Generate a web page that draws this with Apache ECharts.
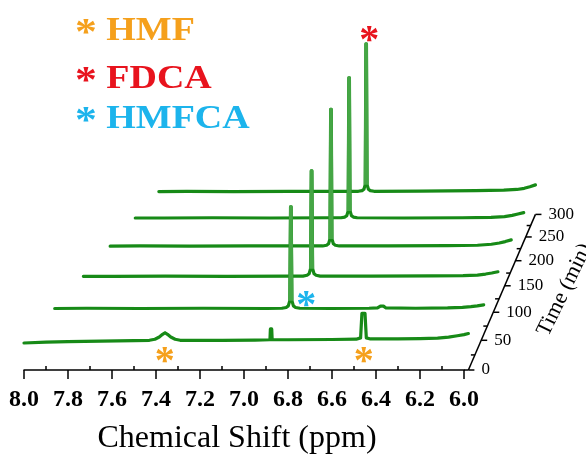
<!DOCTYPE html>
<html>
<head>
<meta charset="utf-8">
<title>1H NMR time course</title>
<script src="https://cdn.jsdelivr.net/npm/echarts@6/dist/echarts.min.js"></script>
<style>
  html, body { margin: 0; padding: 0; background: #ffffff; }
  #chart { width: 586px; height: 455px; }
</style>
</head>
<body>
<div id="chart"></div>
<script>
// Reaction times of the stacked spectra (min)
const times = [0, 60, 120, 180, 240, 300];

// Spectra as [chemical shift (ppm), intensity (a.u.)]
const spectrum0 = [
  [8.00, 0.0], [7.90, 0.3], [7.80, 0.5], [7.65, 0.7], [7.50, 0.9], [7.43, 1.0],
  [7.405, 1.4], [7.385, 2.2], [7.37, 3.2], [7.359, 3.8], [7.348, 3.2], [7.333, 2.2],
  [7.313, 1.4], [7.29, 1.0], [7.10, 1.0], [6.95, 1.1], [6.882, 1.2], [6.880, 5.2],
  [6.874, 5.2], [6.872, 1.2], [6.80, 1.2], [6.60, 1.3], [6.49, 1.4], [6.470, 1.9],
  [6.464, 11.0], [6.450, 11.0], [6.444, 1.9], [6.425, 1.5], [6.30, 1.5], [6.20, 1.6],
  [6.12, 1.8], [6.07, 2.2], [6.03, 2.7], [6.00, 3.1], [5.98, 3.5]
];
const spectrum60 = [
  [8.00, 0.0], [7.85, 0.1], [7.60, 0.0], [7.30, 0.1], [7.00, 0.0], [6.93, 0.1],
  [6.91, 0.4], [6.90, 1.0], [6.893, 3.0], [6.8895, 39.0], [6.8865, 39.0], [6.883, 3.0],
  [6.876, 1.0], [6.866, 0.4], [6.846, 0.1], [6.70, 0.0], [6.52, 0.1], [6.48, 0.2],
  [6.466, 0.9], [6.452, 0.9], [6.44, 0.2], [6.30, 0.1], [6.15, 0.2], [6.08, 0.4],
  [6.04, 0.7], [6.01, 1.0], [5.98, 1.4]
];
const spectrum120 = [
  [8.00, 0.0], [7.85, 0.0], [7.60, 0.1], [7.30, 0.0], [7.00, 0.1], [6.93, 0.1],
  [6.91, 0.4], [6.90, 1.0], [6.893, 3.0], [6.8895, 41.9], [6.8865, 41.9], [6.883, 3.0],
  [6.876, 1.0], [6.866, 0.4], [6.846, 0.1], [6.60, 0.1], [6.30, 0.2], [6.15, 0.3],
  [6.08, 0.5], [6.04, 0.9], [6.01, 1.3], [5.98, 1.8]
];
const spectrum180 = [
  [8.00, 0.0], [7.85, 0.1], [7.60, 0.0], [7.30, 0.1], [7.00, 0.1], [6.93, 0.1],
  [6.91, 0.4], [6.90, 1.0], [6.893, 3.0], [6.8895, 56.2], [6.8865, 56.2], [6.883, 3.0],
  [6.876, 1.0], [6.866, 0.4], [6.846, 0.1], [6.60, 0.1], [6.30, 0.2], [6.15, 0.4],
  [6.08, 0.8], [6.04, 1.3], [6.01, 1.9], [5.98, 2.6]
];
const spectrum240 = [
  [8.00, 0.0], [7.85, 0.0], [7.60, 0.1], [7.30, 0.0], [7.00, 0.1], [6.93, 0.1],
  [6.91, 0.4], [6.90, 1.0], [6.893, 3.0], [6.8895, 59.4], [6.8865, 59.4], [6.883, 3.0],
  [6.876, 1.0], [6.866, 0.4], [6.846, 0.1], [6.60, 0.0], [6.30, 0.1], [6.15, 0.3],
  [6.08, 0.6], [6.04, 1.1], [6.01, 1.7], [5.98, 2.3]
];
const spectrum300 = [
  [8.00, 0.0], [7.85, 0.1], [7.60, 0.0], [7.30, 0.1], [7.00, 0.1], [6.93, 0.1],
  [6.91, 0.4], [6.90, 1.0], [6.893, 3.0], [6.8895, 64.5], [6.8865, 64.5], [6.883, 3.0],
  [6.876, 1.0], [6.866, 0.4], [6.846, 0.1], [6.60, 0.2], [6.30, 0.4], [6.15, 0.6],
  [6.08, 0.9], [6.04, 1.4], [6.01, 2.1], [5.98, 2.9]
];
const spectra = [spectrum0, spectrum60, spectrum120, spectrum180, spectrum240, spectrum300];

// Time axis ticks (min)
const timeTicks = [0, 50, 100, 150, 200, 250, 300];
const timeMinorTicks = [25, 75, 125, 175, 225, 275];

// Peak assignments: [ppm, time (min), intensity]
const hmfMarks = [[7.36, 0, -4.5], [6.456, 0, -4.5]];
const fdcaMarks = [[6.871, 300, 69.1]];
const hmfcaMarks = [[6.816, 60, 3.7]];

// Compound labels
const compounds = ['HMF', 'FDCA', 'HMFCA'];

const SERIF = '"Liberation Serif", "Times New Roman", Times, serif';
const GREEN = '#178a17';
const LIGHT_GREEN = '#45a645';
const COLORS = { HMF: '#f5a01c', FDCA: '#e8131d', HMFCA: '#1cb4ec' };

// Oblique (perspective) depth projection of the time axis
const T_MAX = 300;
const DEPTH_K = 0.18;
const VANISH = [908, -650];
const FLOOR = -10;          // bottom of the intensity scale
const PPM_END = 5.98;       // far edge of the spectral window
const TALL = 20;            // intensity above which a line is drawn as a thin spike

function project(pt, t) {
  const s = 1 / (1 + DEPTH_K * t / T_MAX);
  return [VANISH[0] + (pt[0] - VANISH[0]) * s, VANISH[1] + (pt[1] - VANISH[1]) * s];
}

const chart = echarts.init(document.getElementById('chart'), null, { renderer: 'canvas' });

const markerSeries = (marks, color) => ({
  type: 'custom',
  coordinateSystem: 'cartesian2d',
  clip: false,
  silent: true,
  z: 5,
  data: marks.map(m => [m[0], m[2]]),
  renderItem(params, api) {
    const m = marks[params.dataIndex];
    const p = project(api.coord([m[0], m[2]]), m[1]);
    return {
      type: 'text',
      x: p[0],
      y: p[1] + 8,
      style: {
        text: '*', fill: color, align: 'center', verticalAlign: 'middle',
        font: 'bold 40px ' + SERIF
      }
    };
  }
});

const option = {
  animation: false,
  backgroundColor: '#ffffff',
  grid: { left: 24, right: 122, top: 73, bottom: 85, outerBoundsMode: 'none', containLabel: false },
  xAxis: {
    type: 'value',
    min: 6,
    max: 8,
    interval: 0.2,
    inverse: true,
    axisLine: { show: true, onZero: false, lineStyle: { color: '#000', width: 1.5 } },
    axisTick: { show: true, inside: false, length: 9, lineStyle: { color: '#000', width: 1.5 } },
    minorTick: { show: true, splitNumber: 2, length: -4, lineStyle: { color: '#000', width: 1.5 } },
    splitLine: { show: false },
    minorSplitLine: { show: false },
    axisLabel: {
      margin: 18, color: '#000', fontFamily: SERIF, fontWeight: 'bold', fontSize: 24,
      formatter: v => v.toFixed(1)
    },
    name: 'Chemical Shift (ppm)',
    nameLocation: 'middle',
    nameGap: 53,
    nameTextStyle: { color: '#000', fontFamily: SERIF, fontSize: 32, padding: [0, 14, 0, 0] }
  },
  yAxis: { type: 'value', min: FLOOR, max: 100, show: false },
  graphic: compounds.map((name, i) => ({
    type: 'text',
    x: 75,
    y: [31, 79.5, 119][i],
    scaleX: 1.15,
    style: {
      text: '{s|*} ' + name, fill: COLORS[name], align: 'left', verticalAlign: 'middle',
      font: 'bold 33px ' + SERIF,
      rich: { s: { font: 'bold 38px ' + SERIF, fill: COLORS[name], padding: [6, 0, 0, 0] } }
    }
  })),
  series: [
    {
      // stacked spectra, drawn from the back row to the front row
      type: 'custom',
      coordinateSystem: 'cartesian2d',
      clip: false,
      silent: true,
      z: 3,
      data: spectra.map(() => [7, 0]),
      renderItem(params, api) {
        const i = spectra.length - 1 - params.dataIndex;
        const spec = spectra[i];
        const pts = spec.map(p => project(api.coord(p), times[i]));
        const children = [{
          type: 'polyline',
          shape: { points: pts },
          style: { stroke: GREEN, lineWidth: 3.2, fill: null, lineJoin: 'round', lineCap: 'round' }
        }];
        // tall, narrow resonances read as lighter spikes
        spec.forEach((p, k) => {
          if (p[1] > TALL && spec[k - 1][1] <= TALL) {
            let e = k;
            while (spec[e][1] > TALL) e++;
            children.push({
              type: 'polyline',
              shape: { points: pts.slice(k - 1, e + 1) },
              style: { stroke: LIGHT_GREEN, lineWidth: 3, fill: null, lineJoin: 'round' }
            });
          }
        });
        return { type: 'group', children };
      }
    },
    {
      // depth (time) axis along the right edge of the floor
      type: 'custom',
      coordinateSystem: 'cartesian2d',
      clip: false,
      silent: true,
      z: 4,
      data: [[PPM_END, FLOOR]],
      renderItem(params, api) {
        const base = api.coord([PPM_END, FLOOR]);
        const at = t => project(base, t);
        const line = { stroke: '#000', lineWidth: 1.5 };
        const children = [];
        const edge0 = api.coord([6, FLOOR]);
        children.push({ type: 'line', shape: { x1: edge0[0], y1: edge0[1], x2: base[0], y2: base[1] }, style: line });
        const a = at(0), b = at(T_MAX);
        children.push({ type: 'line', shape: { x1: a[0], y1: a[1], x2: b[0], y2: b[1] }, style: line });
        timeTicks.forEach(t => {
          const p = at(t);
          children.push({ type: 'line', shape: { x1: p[0], y1: p[1], x2: p[0] + 6, y2: p[1] }, style: line });
          children.push({
            type: 'text', x: p[0] + 13, y: p[1],
            style: { text: String(t), fill: '#000', align: 'left', verticalAlign: 'middle', font: '17px ' + SERIF }
          });
        });
        timeMinorTicks.forEach(t => {
          const p = at(t);
          children.push({ type: 'line', shape: { x1: p[0] - 4, y1: p[1], x2: p[0], y2: p[1] }, style: line });
        });
        const mid = at(T_MAX / 2);
        children.push({
          type: 'text', x: mid[0] + 60, y: mid[1] + 4, rotation: 64 * Math.PI / 180,
          style: { text: 'Time (min)', fill: '#000', align: 'center', verticalAlign: 'middle', font: '22px ' + SERIF }
        });
        return { type: 'group', children };
      }
    },
    markerSeries(hmfMarks, COLORS.HMF),
    markerSeries(fdcaMarks, COLORS.FDCA),
    markerSeries(hmfcaMarks, COLORS.HMFCA)
  ]
};

chart.setOption(option);
</script>
</body>
</html>
